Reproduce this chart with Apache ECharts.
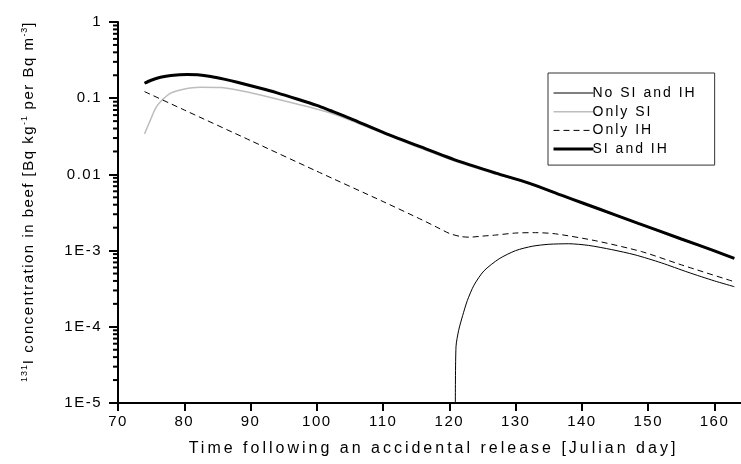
<!DOCTYPE html>
<html>
<head>
<meta charset="utf-8">
<script src="https://cdn.jsdelivr.net/npm/echarts@6/dist/echarts.min.js"></script>
<style>
html, body { margin: 0; padding: 0; background: #fff; }
#chart { width: 741px; height: 464px; }
</style>
</head>
<body>
<div id="chart"></div>
<script>
// ---------------- data ----------------
const xAxisMin = 70;
const xAxisMax = 164;
const xTickInterval = 10;
const yTickLabels = ['1E-5', '1E-4', '1E-3', '0.01', '0.1', '1'];
const minorTickValues = [
  2e-5, 3e-5, 4e-5, 5e-5, 6e-5, 7e-5, 8e-5, 9e-5,
  2e-4, 3e-4, 4e-4, 5e-4, 6e-4, 7e-4, 8e-4, 9e-4,
  2e-3, 3e-3, 4e-3, 5e-3, 6e-3, 7e-3, 8e-3, 9e-3,
  0.02, 0.03, 0.04, 0.05, 0.06, 0.07, 0.08, 0.09,
  0.2, 0.3, 0.4, 0.5, 0.6, 0.7, 0.8, 0.9
];

const seriesNames = ['No SI and IH', 'Only SI', 'Only IH', 'SI and IH'];

const noSiIhDays   = [120.9, 121.0, 121.4, 122, 122.7, 123.7, 125.2, 127.5, 130, 132.5, 135, 138, 141, 144.5, 148, 152, 156, 160, 163];
const noSiIhValues = [1e-5, 5.5e-5, 9e-5, 1.4e-4, 2.2e-4, 3.5e-4, 5.4e-4, 7.8e-4, 1.0e-3, 1.14e-3, 1.21e-3, 1.23e-3, 1.17e-3, 1.03e-3, 8.8e-4, 6.9e-4, 5.2e-4, 4.0e-4, 3.36e-4];

const onlySiDays   = [74, 74.9, 75.6, 76.4, 77.9, 79.9, 82.4, 85.5, 88, 91.5, 97, 102, 105, 110, 115.6, 121.6, 127, 132, 140, 148.5, 155, 163];
const onlySiValues = [0.034, 0.052, 0.072, 0.09, 0.116, 0.131, 0.139, 0.138, 0.128, 0.11, 0.084, 0.0645, 0.0515, 0.0345, 0.0222, 0.0142, 0.0101, 0.0075, 0.0042, 0.00224, 0.0014, 0.00078];

const onlyIhDays   = [74, 80, 90, 100, 110, 116, 118, 120, 121.7, 123, 125, 127, 130, 133, 136, 142, 149, 155, 163];
const onlyIhValues = [0.122, 0.070, 0.0278, 0.011, 0.0044, 0.0025, 0.00205, 0.00168, 0.00153, 0.0015, 0.00155, 0.0016, 0.0017, 0.00172, 0.00166, 0.00135, 0.00097, 0.00065, 0.00039];

const siIhDays   = [74, 75, 76.4, 78, 80.4, 82, 84, 86, 88, 91.5, 94, 97, 100, 102, 105, 110, 115.6, 121.6, 127, 132, 137, 140, 145, 148.5, 155, 160, 163];
const siIhValues = [0.157, 0.172, 0.188, 0.199, 0.205, 0.203, 0.193, 0.178, 0.162, 0.135, 0.1175, 0.0977, 0.0805, 0.069, 0.0545, 0.0357, 0.0231, 0.0147, 0.0104, 0.0077, 0.0053, 0.00425, 0.00295, 0.00228, 0.00142, 0.00099, 0.00079];

// ---------------- letter spacing (text in reference is widely tracked) ----------------
function spacingFor(px) {
  if (px >= 16) return 3;
  if (px >= 15) return 1.5;
  if (px >= 14) return 2;
  return px * 0.1;
}
function fontPx(font) {
  const m = /(\d+(?:\.\d+)?)px/.exec(font || '');
  return m ? parseFloat(m[1]) : 12;
}
const mctx = document.createElement('canvas').getContext('2d');
if (echarts.setPlatformAPI) {
  echarts.setPlatformAPI({
    measureText: function (text, font) {
      mctx.font = font || '12px sans-serif';
      const w = mctx.measureText(text).width;
      return { width: w + String(text).length * spacingFor(fontPx(font)) };
    }
  });
}
(function () {
  const proto = CanvasRenderingContext2D.prototype;
  const origFill = proto.fillText;
  proto.fillText = function () {
    const sp = spacingFor(fontPx(this.font));
    const hasLS = ('letterSpacing' in this);
    const prev = hasLS ? this.letterSpacing : null;
    if (hasLS) this.letterSpacing = sp + 'px';
    const r = origFill.apply(this, arguments);
    if (hasLS) this.letterSpacing = prev;
    return r;
  };
})();

// ---------------- chart ----------------
const FONT = "'Liberation Sans', Arial, sans-serif";
const chart = echarts.init(document.getElementById('chart'), null, { renderer: 'canvas' });

function pairs(xs, ys) { return xs.map((x, i) => [x, ys[i]]); }

const lineCommon = { type: 'line', symbol: 'none', smooth: 0.25, silent: true };

const option = {
  animation: false,
  backgroundColor: '#ffffff',
  textStyle: { fontFamily: FONT, color: '#000' },
  grid: { left: 118, right: 0, top: 22, bottom: 61, containLabel: false },
  legend: {
    left: 548,
    top: 73,
    orient: 'vertical',
    data: seriesNames,
    itemWidth: 40,
    itemHeight: 14,
    itemGap: 2.7,
    padding: [12, 18, 8, 4],
    borderColor: '#333',
    borderWidth: 1,
    borderRadius: 0,
    selectedMode: false,
    lineStyle: { width: 'inherit' },
    itemStyle: { opacity: 0 },
    textStyle: { fontFamily: FONT, fontSize: 14, color: '#000', padding: [0, 0, 0, -6] }
  },
  xAxis: {
    type: 'value',
    min: xAxisMin,
    max: xAxisMax,
    interval: xTickInterval,
    name: 'Time following an accidental release [Julian day]',
    nameLocation: 'middle',
    nameGap: 36,
    nameTextStyle: { fontFamily: FONT, fontSize: 16, color: '#000', padding: [0, 0, 0, 8] },
    axisLine: { show: true, onZero: false, lineStyle: { color: '#000', width: 2 } },
    axisTick: { show: true, inside: false, length: 8, lineStyle: { color: '#000', width: 2 } },
    axisLabel: { fontFamily: FONT, fontSize: 15, color: '#000', margin: 11, showMaxLabel: false },
    splitLine: { show: false }
  },
  yAxis: {
    type: 'log',
    logBase: 10,
    min: 1e-5,
    max: 1,
    name: '{sup|131}{b|I concentration in beef [Bq kg}{sup|-1}{b| per Bq m}{sup|-3}{b|]}',
    nameLocation: 'middle',
    nameGap: 80,
    nameTextStyle: {
      fontFamily: FONT, color: '#000',
      padding: [0, 0, 0, 22],
      rich: {
        b: { fontFamily: FONT, fontSize: 15, lineHeight: 18, color: '#000' },
        sup: { fontFamily: FONT, fontSize: 9, lineHeight: 10, verticalAlign: 'top', color: '#000' }
      }
    },
    axisLine: { show: true, lineStyle: { color: '#000', width: 2 } },
    axisTick: { show: true, inside: false, length: 9, lineStyle: { color: '#000', width: 2 } },
    axisLabel: {
      fontFamily: FONT, fontSize: 15, color: '#000', margin: 16,
      formatter: function (v) {
        const e = Math.round(Math.log10(v));
        return yTickLabels[e + 5] !== undefined ? yTickLabels[e + 5] : '';
      }
    },
    splitLine: { show: false },
    minorTick: { show: false }
  },
  series: [
    {
      name: 'minorTicks',
      type: 'custom',
      silent: true,
      clip: false,
      data: minorTickValues.map(v => [xAxisMin, v]),
      renderItem: function (params, api) {
        const p = api.coord([api.value(0), api.value(1)]);
        return {
          type: 'line',
          shape: { x1: p[0] - 5, y1: p[1], x2: p[0], y2: p[1] },
          style: { stroke: '#000', lineWidth: 2 }
        };
      }
    },
    Object.assign({}, lineCommon, {
      name: seriesNames[0],
      data: pairs(noSiIhDays, noSiIhValues),
      lineStyle: { color: '#000', width: 1 }, itemStyle: { color: '#000' }
    }),
    Object.assign({}, lineCommon, {
      name: seriesNames[1],
      data: pairs(onlySiDays, onlySiValues),
      lineStyle: { color: '#bdbdbd', width: 1.5 }, itemStyle: { color: '#bdbdbd' }
    }),
    Object.assign({}, lineCommon, {
      name: seriesNames[2],
      data: pairs(onlyIhDays, onlyIhValues),
      lineStyle: { color: '#000', width: 1, type: [6, 4] }, itemStyle: { color: '#000' }
    }),
    Object.assign({}, lineCommon, {
      name: seriesNames[3],
      data: pairs(siIhDays, siIhValues),
      lineStyle: { color: '#000', width: 3 }, itemStyle: { color: '#000' }
    })
  ]
};
chart.setOption(option);
</script>
</body>
</html>
